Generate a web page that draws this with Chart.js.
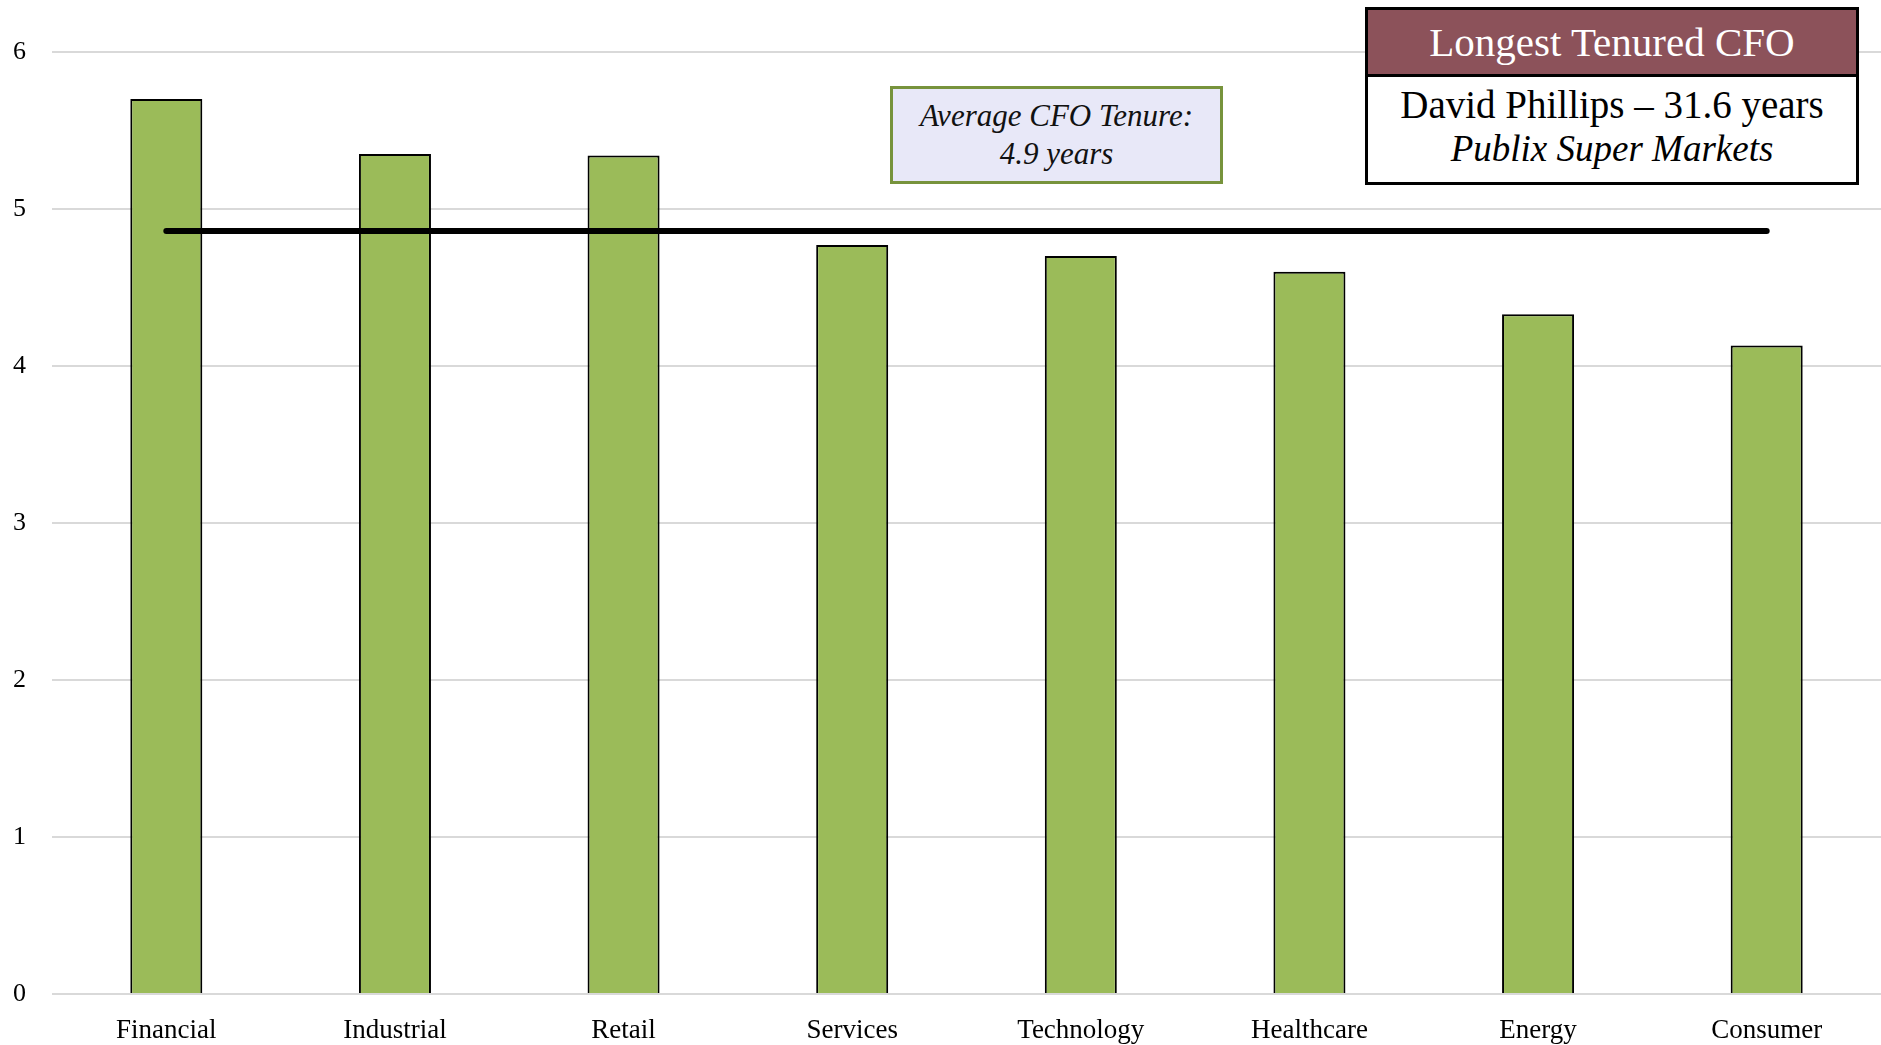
<!DOCTYPE html>
<html>
<head>
<meta charset="utf-8">
<script src="https://cdn.jsdelivr.net/npm/chart.js@4.4.1/dist/chart.umd.min.js"></script>
<style>
  html, body { margin: 0; padding: 0; background: #fff; }
  #wrap { position: relative; width: 1881px; height: 1045px; }
  canvas { display: block; }
  .box { position: absolute; box-sizing: border-box; font-family: 'Liberation Serif', serif; text-align: center; }
  #avgBox { left: 890px; top: 86px; width: 333px; height: 98px; border: 3px solid #77933c; background: #e8e8f8;
            font-style: italic; font-size: 31px; line-height: 38px; padding-top: 8px; color: #111; }
  #cfoBox { left: 1365px; top: 7px; width: 494px; height: 178px; border: 3px solid #000; background: #fff; }
  #cfoHead { background: #8c525a; color: #fff; font-size: 41px; height: 64px; line-height: 64px; border-bottom: 3px solid #000; }
  #cfoName { font-size: 39px; line-height: 46px; margin-top: 5px; color: #000; }
  #cfoCo { font-size: 37px; line-height: 42px; font-style: italic; color: #000; }
</style>
</head>
<body>
<div id="wrap">
  <canvas id="tenureChart" width="1881" height="1045"></canvas>
  <div class="box" id="avgBox">Average CFO Tenure:<br>4.9 years</div>
  <div class="box" id="cfoBox">
    <div id="cfoHead">Longest Tenured CFO</div>
    <div id="cfoName">David Phillips – 31.6 years</div>
    <div id="cfoCo">Publix Super Markets</div>
  </div>
</div>
<script>
const sectors = ['Financial', 'Industrial', 'Retail', 'Services', 'Technology', 'Healthcare', 'Energy', 'Consumer'];
const tenure = [5.70, 5.35, 5.34, 4.77, 4.70, 4.60, 4.33, 4.13];
const avgTenure = [4.86, 4.86, 4.86, 4.86, 4.86, 4.86, 4.86, 4.86];
const yTicks = [0, 1, 2, 3, 4, 5, 6];

const ctx = document.getElementById('tenureChart').getContext('2d');

new Chart(ctx, {
  type: 'bar',
  data: {
    labels: sectors,
    datasets: [{
      type: 'line',
      label: 'Average',
      data: avgTenure,
      borderColor: '#000',
      borderWidth: 6,
      borderCapStyle: 'round',
      pointRadius: 0,
      fill: false,
      order: 1
    }, {
      label: 'Tenure',
      data: tenure,
      backgroundColor: '#9bbb59',
      borderColor: '#000',
      borderWidth: 2,
      borderSkipped: 'bottom',
      barPercentage: 0.315,
      categoryPercentage: 1,
      order: 2
    }]
  },
  options: {
    responsive: false,
    animation: false,
    layout: {
      padding: { top: 52, right: 0, bottom: 0, left: 0 }
    },
    plugins: {
      legend: { display: false },
      tooltip: { enabled: false }
    },
    scales: {
      x: {
        afterFit: (scale) => { scale.height = 51; },
        grid: { display: false },
        border: { display: false },
        ticks: {
          color: '#000',
          padding: 13,
          font: { family: 'Liberation Serif', size: 27 }
        }
      },
      y: {
        min: 0,
        max: 6,
        afterFit: (scale) => { scale.width = 52; },
        afterBuildTicks: (scale) => { scale.ticks = yTicks.map(v => ({ value: v })); },
        grid: { color: '#d9d9d9', lineWidth: 2, drawTicks: false },
        border: { display: false },
        ticks: {
          color: '#000',
          padding: 26,
          font: { family: 'Liberation Serif', size: 26 }
        }
      }
    }
  }
});
</script>
</body>
</html>
